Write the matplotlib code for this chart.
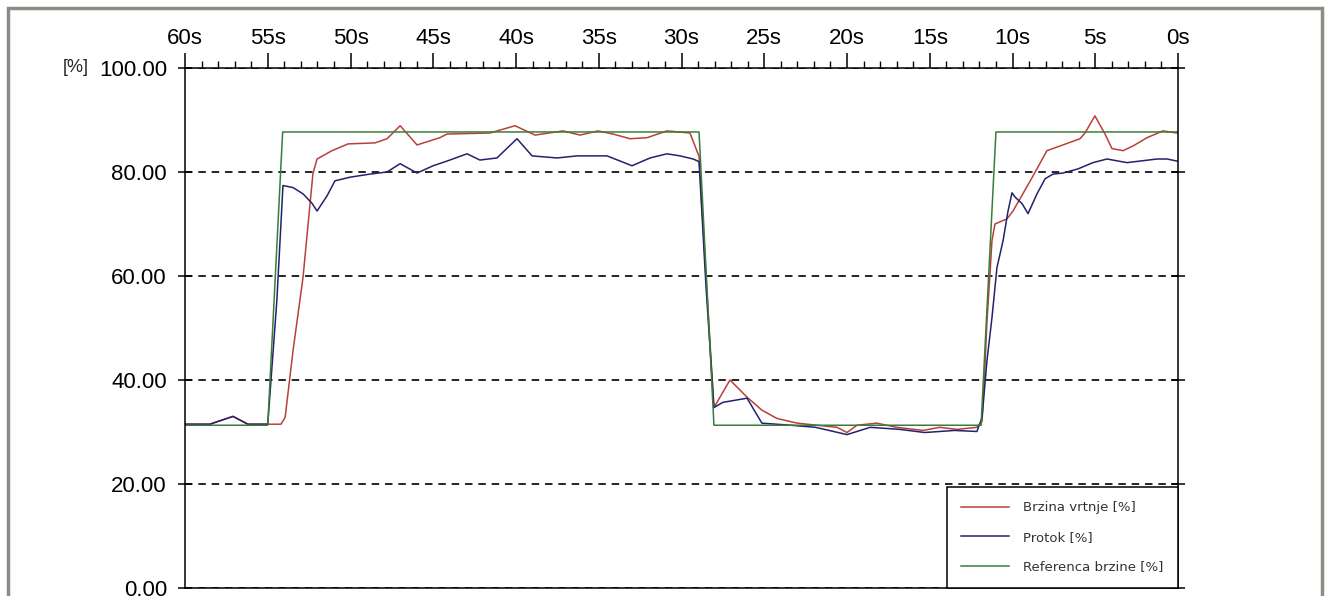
import numpy as np
import matplotlib.pyplot as plt
from matplotlib.patches import Rectangle

# Time axis runs from 60 s ago (left) to now (right)
x_ticks = [60, 55, 50, 45, 40, 35, 30, 25, 20, 15, 10, 5, 0]
y_ticks = [0, 20, 40, 60, 80, 100]

# Referenca brzine [%] (green)
ref_t = [60, 55.0, 54.1, 28.94, 28.04, 11.9, 11.0, 0]
ref_v = [31.3, 31.3, 87.7, 87.7, 31.3, 31.3, 87.7, 87.7]

# Brzina vrtnje [%] (red)
speed_t = [60, 58.5, 57.1, 56.2, 54.2, 53.95, 53.47, 52.87, 52.27, 52.02,
           51.12, 50.15, 48.52, 47.79, 47.0, 45.98, 44.6, 44.17, 41.57, 40.06,
           38.85, 37.16, 36.13, 35.05, 34.14, 33.11, 32.08, 30.88, 29.49, 28.94,
           28.52, 28.04, 27.07, 26.04, 25.14, 24.23, 23.0, 21.8, 20.6, 20.0,
           19.4, 18.2, 17.0, 15.4, 14.4, 13.35, 12.15, 11.84, 11.66, 11.54,
           11.36, 11.24, 11.06, 10.33, 9.97, 8.82, 7.92, 7.13, 5.92, 5.62,
           5.02, 4.41, 3.99, 3.32, 2.72, 1.87, 0.91, 0.06]
speed_v = [31.5, 31.5, 33.0, 31.5, 31.5, 32.8, 45.7, 59.7, 79.7, 82.5,
           84.1, 85.4, 85.6, 86.4, 88.9, 85.2, 86.6, 87.3, 87.5, 88.9,
           87.1, 87.9, 87.1, 87.9, 87.3, 86.4, 86.6, 87.9, 87.5, 83.0,
           60.0, 34.7, 40.0, 36.7, 34.2, 32.6, 31.7, 31.3, 30.9, 29.9,
           31.3, 31.7, 30.9, 30.3, 30.9, 30.5, 30.9, 32.0, 43.0, 51.4,
           60.5, 66.8, 70.0, 71.0, 72.5, 78.9, 84.1, 85.0, 86.4, 87.5,
           90.8, 87.3, 84.5, 84.1, 85.0, 86.6, 87.9, 87.5]

# Protok [%] (blue)
flow_t = [60, 58.5, 57.1, 56.2, 55.0, 54.45, 54.08, 53.47, 52.87, 52.33,
          52.02, 51.42, 50.94, 50.03, 48.82, 47.79, 47.0, 45.98, 45.01, 44.17,
          42.96, 42.18, 41.15, 39.94, 39.03, 37.52, 36.31, 34.5, 32.99, 31.9,
          30.88, 30.09, 29.3, 28.94, 28.52, 28.04, 27.5, 26.04, 25.14, 23.4,
          21.9, 20.0, 18.6, 16.8, 15.3, 13.5, 12.15, 11.84, 11.54, 11.24,
          10.94, 10.57, 10.27, 10.03, 9.85, 9.42, 9.06, 8.52, 8.03, 7.55,
          6.95, 6.04, 5.14, 4.29, 3.08, 2.3, 1.27, 0.66, 0.06]
flow_v = [31.5, 31.5, 33.0, 31.5, 31.5, 55.3, 77.4, 77.0, 75.8, 74.0,
          72.5, 75.4, 78.3, 79.0, 79.6, 80.0, 81.6, 79.8, 81.2, 82.1,
          83.5, 82.3, 82.7, 86.4, 83.1, 82.7, 83.1, 83.1, 81.2, 82.7,
          83.5, 83.1, 82.5, 82.0, 58.0, 34.7, 35.7, 36.5, 31.7, 31.3,
          30.9, 29.5, 30.9, 30.5, 29.9, 30.3, 30.1, 32.8, 43.8, 52.0,
          61.6, 66.8, 72.5, 76.0, 75.2, 73.9, 72.0, 75.8, 78.7, 79.6,
          79.8, 80.6, 81.8, 82.5, 81.8, 82.1, 82.5, 82.5, 82.1]

plt.rcParams['font.family'] = ['Liberation Sans', 'DejaVu Sans']

fig = plt.figure(figsize=(13.27, 5.96), dpi=100)
ax = fig.add_axes([185 / 1327, 8 / 596, 993 / 1327, 520 / 596])

ax.plot(speed_t, speed_v, color='#b8403a', lw=1.1, label='Brzina vrtnje [%]')
ax.plot(flow_t, flow_v, color='#22226e', lw=1.1, label='Protok [%]')
ax.plot(ref_t, ref_v, color='#3a7d3a', lw=1.1, label='Referenca brzine [%]')

ax.set_xlim(60, 0)
ax.set_ylim(0, 100)

# x ticks on top, 1 s minor ticks
ax.xaxis.tick_top()
ax.set_xticks(x_ticks)
ax.set_xticklabels([f'{t}s' for t in x_ticks])
ax.set_xticks(np.arange(0, 61, 1), minor=True)
ax.tick_params(axis='x', which='major', direction='out', length=11, width=1.1,
               pad=3, labelsize=16)
ax.tick_params(axis='x', which='minor', direction='out', length=5, width=1.0)

ax.set_yticks(y_ticks)
ax.set_yticklabels([f'{v:.2f}' for v in y_ticks])
ax.tick_params(axis='y', which='both', direction='inout', length=10, width=1.1,
               pad=8, labelsize=16, left=True, right=True)

for s in ax.spines.values():
    s.set_linewidth(1.1)
    s.set_color('black')

ax.yaxis.grid(True, linestyle=(0, (4.5, 3.5)), color='black', lw=1.2)
ax.set_axisbelow(True)

ax.text(-0.097, 1.0, '[%]', transform=ax.transAxes, ha='right', va='center',
        fontsize=13, color='#222222')

leg = ax.legend(loc='lower right', frameon=True, fancybox=False,
                borderaxespad=0, handlelength=3.6, handletextpad=1.1,
                labelspacing=1.25, borderpad=1.1,
                prop={'family': 'DejaVu Sans', 'size': 9.5})
leg.get_frame().set_edgecolor('black')
leg.get_frame().set_linewidth(1.1)
leg.get_frame().set_alpha(1.0)
for t in leg.get_texts():
    t.set_color('#333333')

# window frame around the chart
fig.patches.append(Rectangle((8 / 1327, -0.05), 1314 / 1327, 1.05 - 8 / 596,
                             transform=fig.transFigure, fill=False,
                             edgecolor='#8c8c84', lw=2.5))

fig.savefig('out.png', dpi=100)
